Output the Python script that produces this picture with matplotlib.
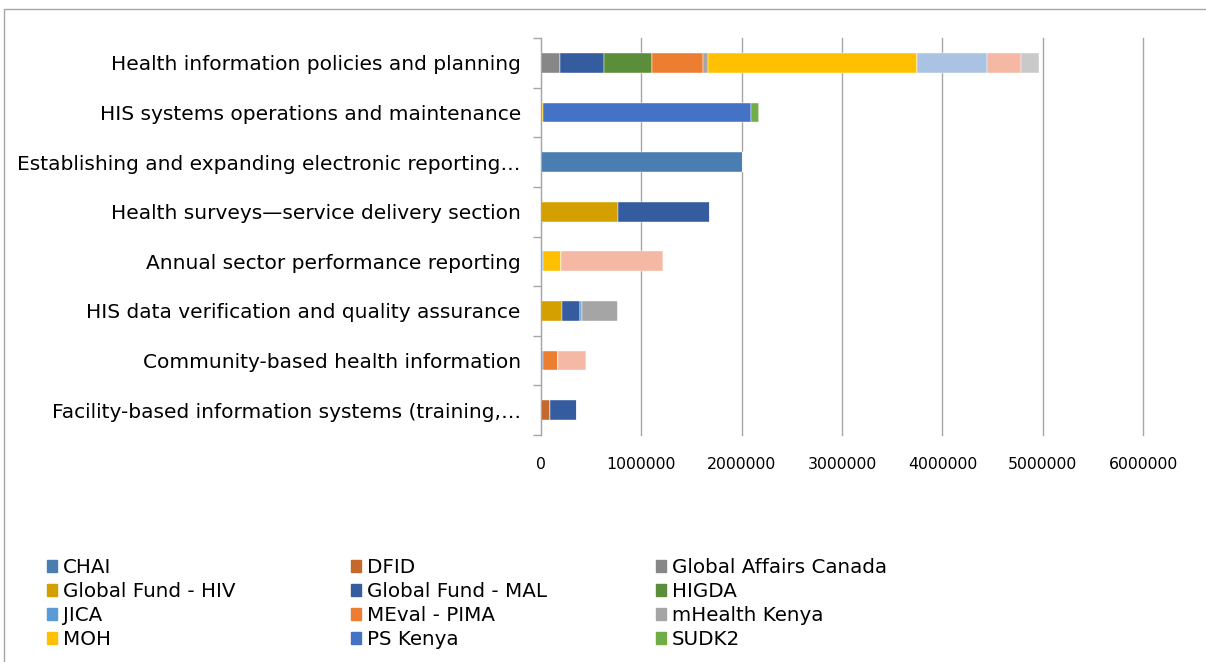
import numpy as np
import matplotlib.pyplot as plt
from matplotlib.patches import Rectangle, Patch


categories = ['Health information policies and planning',
              'HIS systems operations and maintenance',
              'Establishing and expanding electronic reporting…',
              'Health surveys—service delivery section',
              'Annual sector performance reporting',
              'HIS data verification and quality assurance',
              'Community-based health information',
              'Facility-based information systems (training,…']

# one list per funder, values in the category order above
chai      = [0, 0, 2010000, 0, 0, 0, 0, 0]
dfid      = [0, 0, 0, 0, 0, 0, 0, 87000]
gac       = [185000, 0, 0, 0, 0, 0, 0, 0]
gf_hiv    = [0, 0, 0, 763000, 0, 207000, 0, 0]
gf_mal    = [441000, 0, 0, 920000, 0, 180000, 23000, 273000]
higda     = [478000, 0, 0, 0, 0, 0, 0, 0]
jica      = [0, 0, 0, 0, 17000, 20000, 0, 0]
meval     = [509000, 0, 0, 0, 0, 0, 144000, 0]
mhealth   = [50000, 0, 0, 0, 0, 360000, 0, 0]
moh       = [2084000, 20000, 0, 0, 180000, 0, 0, 0]
ps_kenya  = [0, 2073000, 0, 0, 0, 0, 0, 0]
sudk2     = [0, 80000, 0, 0, 0, 0, 0, 0]
unicef    = [701000, 0, 0, 0, 0, 0, 0, 0]
usaid     = [333000, 0, 0, 0, 1016000, 0, 286000, 0]
who       = [179000, 0, 0, 0, 0, 0, 0, 0]

series = [
    ('CHAI', chai, '#4A7EB0'),
    ('DFID', dfid, '#C5682B'),
    ('Global Affairs Canada', gac, '#878787'),
    ('Global Fund - HIV', gf_hiv, '#D4A000'),
    ('Global Fund - MAL', gf_mal, '#345C9F'),
    ('HIGDA', higda, '#5A8E3A'),
    ('JICA', jica, '#5B9BD5'),
    ('MEval - PIMA', meval, '#ED7D31'),
    ('mHealth Kenya', mhealth, '#A5A5A5'),
    ('MOH', moh, '#FFC000'),
    ('PS Kenya', ps_kenya, '#4472C4'),
    ('SUDK2', sudk2, '#70AD47'),
    ('UNICEF', unicef, '#ABC3E3'),
    ('USAID', usaid, '#F4B8A4'),
    ('WHO', who, '#C9C9C9'),
]

plt.rcParams['font.family'] = ['DejaVu Sans']

fig = plt.figure(figsize=(12.06, 6.62), dpi=100)
ax = fig.add_axes([541 / 1206, 1 - 435 / 662, 602 / 1206, 397 / 662])

y = np.arange(len(categories))
left = np.zeros(len(categories))
for name, vals, col in series:
    vals = np.array(vals, dtype=float)
    ax.barh(y, vals, left=left, height=0.4, color=col, label=name,
            edgecolor='white', linewidth=0.3)
    left += vals

ax.set_ylim(len(categories) - 0.5, -0.5)
ax.set_xlim(0, 6000000)
ax.set_xticks(np.arange(0, 6000001, 1000000))
ax.set_xticklabels([str(v) for v in range(0, 6000001, 1000000)], fontsize=11.3)
ax.set_yticks(y)
ax.set_yticklabels(categories, fontsize=14.5)
ax.set_yticks(np.arange(-0.5, len(categories), 1), minor=True)

ax.tick_params(axis='y', which='major', length=0, pad=14.5)
ax.tick_params(axis='y', which='minor', length=6, color='#A6A6A6', width=1)
ax.tick_params(axis='x', length=0, pad=16)

ax.grid(axis='x', color='#A6A6A6', linewidth=1)
for gl in ax.xaxis.get_gridlines():
    gl.set_clip_on(False)
ax.set_axisbelow(True)
for s in ['top', 'right', 'bottom']:
    ax.spines[s].set_visible(False)
ax.spines['left'].set_color('#A6A6A6')
ax.spines['left'].set_zorder(5)

# legend laid out row by row in three equal-width columns (only 4 rows are visible)
col_x = [47, 351, 656]
for j in range(3):
    idx = [i * 3 + j for i in range(4)]
    fig.legend([Patch(color=series[k][2]) for k in idx],
               [series[k][0] for k in idx],
               loc='upper left', bbox_to_anchor=(col_x[j] / 1206, 1 - 558 / 662),
               frameon=False, fontsize=14.3, handlelength=0.5, handleheight=0.5,
               handletextpad=0.3, labelspacing=0.25, borderaxespad=0, borderpad=0)

fig.add_artist(Rectangle((4 / 1206, -0.1), 2, 1 - 9 / 662 + 0.1,
                         transform=fig.transFigure, fill=False,
                         edgecolor='#A6A6A6', linewidth=1))

fig.savefig('out.png', dpi=100)
